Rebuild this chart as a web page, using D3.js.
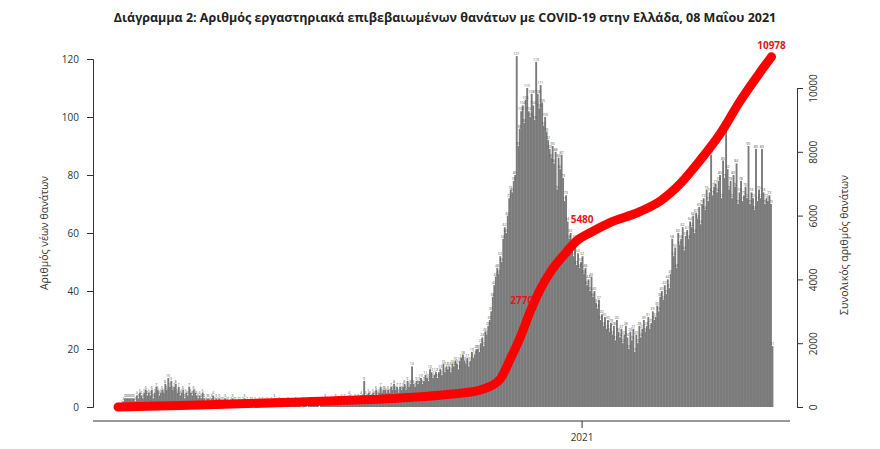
<!DOCTYPE html>
<html><head><meta charset="utf-8">
<script src="https://cdn.jsdelivr.net/npm/d3@7"></script>
<style>body{margin:0;background:#fff}text{font-family:"Open Sans",sans-serif}</style>
</head><body>
<script>
// daily new deaths, starting 26 Feb 2020
var startDay = "2020-02-26";
var dailyDeaths = [
  0,0,1,2,3,3,3,3,3,3, 3,2,4,3,5,4,3,5,6,4, 5,4,6,3,5,7,6,4,5,6, 5,8,6,10,7,9,6,7,8,5,
  7,4,5,6,3,5,4,7,5,4, 6,5,4,3,4,3,5,3,2,3, 3,2,3,4,2,3,2,3,2,2, 2,3,2,2,1,2,3,2,2,1,
  2,2,1,2,3,1,2,1,2,2, 1,2,1,1,2,1,2,1,1,2, 1,1,2,1,3,1,1,2,1,1, 1,0,1,2,1,1,0,1,2,1,
  1,1,0,2,1,1,0,1,1,2, 1,1,2,1,0,2,1,1,3,1, 2,1,1,2,1,3,2,1,2,3, 2,3,2,1,4,3,2,2,3,2,
  3,2,4,3,9,4,3,5,4,3, 5,4,6,4,5,7,5,6,6,5, 6,5,7,6,8,6,7,5,7,6, 7,8,6,9,7,8,14,8,7,9,
  8,9,10,8,9,11,10,9,13,12, 10,11,12,10,12,13,11,15,12,14, 13,14,12,15,14,16,15,13,16,17,
  18,16,15,17,14,16,19,17,18,20, 20,19,22,24,21,26,25,28,30,33, 38,42,45,48,46,52,50,58,62,60,
  66,72,75,74,78,80,121,90,96,102, 104,98,106,110,102,100,108,104,99,119,
  108,103,111,105,97,100,95,92,89,86, 90,84,88,75,86,82,87,79,71,73,
  64,58,60,55,52,58,49,53,48,50, 52,46,48,42,44,40,45,38,40,36, 34,37,30,32,28,31,27,30,26,29,
  25,28,23,30,26,24,27,22,25,28, 24,20,26,23,27,19,25,22,28,24, 27,30,26,28,31,27,29,33,30,31,
  35,33,38,40,37,42,39,44,41,46, 58,52,55,48,60,56,58,62,54,59, 61,58,64,62,66,60,67,65,69,63,
  70,72,68,75,71,74,87,73,76,77, 74,78,80,72,85,79,96,82,75,78, 72,80,76,84,70,74,78,71,73,76,
  72,90,70,74,72,68,89,71,75,72, 89,74,70,72,71,73,70,21
];
// cumulative total deaths
var cumDates = ["2020-02-26","2020-04-21","2020-06-27","2020-09-02","2020-10-05","2020-10-25","2020-11-01",
  "2020-11-08","2020-11-14","2020-11-21","2020-11-28","2020-12-04","2020-12-11","2020-12-21","2020-12-29",
  "2021-01-07","2021-01-20","2021-02-09","2021-02-23","2021-03-08","2021-03-21","2021-04-04","2021-04-17",
  "2021-04-30","2021-05-08"];
var cumDeaths = [0,60,160,280,400,530,650,900,1470,2190,3030,3650,4220,4810,5220,5470,5780,6125,6470,7000,7720,8590,9590,10470,10978];
var callouts = [["2020-12-01","2770"],["2021-01-09","5480"],["2021-05-08","10978"]];
var leftTicks = [0,20,40,60,80,100,120];
var rightTicks = [0,2000,4000,6000,8000,10000];

var W = 880, H = 449;
var parse = d3.timeParse("%Y-%m-%d");
var t0 = parse(startDay);
var days = dailyDeaths.map((v, i) => ({date: d3.timeDay.offset(t0, i), v: v}));

var svg = d3.select("body").append("svg").attr("width", W).attr("height", H);

var x = d3.scaleTime().domain([t0, d3.timeDay.offset(t0, dailyDeaths.length)]).range([118, 773]);
var y = d3.scaleLinear().domain([0, 120]).range([407, 59]);
var y2 = d3.scaleLinear().domain([0, 10000]).range([407, 88]);
var bw = x(d3.timeDay.offset(t0, 1)) - x(t0);

svg.append("text").attr("x", 445).attr("y", 22).attr("text-anchor", "middle")
  .attr("font-size", 12.5).attr("font-weight", "bold").attr("fill", "#222")
  .text("Διάγραμμα 2: Αριθμός εργαστηριακά επιβεβαιωμένων θανάτων με COVID-19 στην Ελλάδα, 08 Μαΐου 2021");

svg.append("g").selectAll("rect").data(days).enter().append("rect")
  .attr("x", d => x(d.date)).attr("width", bw + 0.4)
  .attr("y", d => y(d.v)).attr("height", d => 407 - y(d.v))
  .attr("fill", "#7b7b7b");

svg.append("g").selectAll("text").data(days.filter(d => d.v > 0)).enter().append("text")
  .attr("x", d => x(d.date) + bw / 2).attr("y", d => y(d.v) - 1)
  .attr("text-anchor", "middle").attr("font-size", 3.5).attr("fill", "#555")
  .text(d => d.v);

var cum = cumDates.map((d, i) => ({date: parse(d), v: cumDeaths[i]}));
svg.append("path").datum(cum)
  .attr("d", d3.line().x(d => x(d.date)).y(d => y2(d.v)).curve(d3.curveMonotoneX))
  .attr("fill", "none").attr("stroke", "#ff0000").attr("stroke-width", 9)
  .attr("stroke-linecap", "round");

var cumAt = d => d3.scaleTime().domain(cum.map(c => c.date)).range(cum.map(c => c.v))(d);
callouts.forEach(c => {
  var dt = parse(c[0]);
  svg.append("text").attr("x", x(dt) - (c[1] == "2770" ? 2 : 0)).attr("y", y2(cumAt(dt)) - (c[1] == "2770" ? -4 : 8))
    .attr("text-anchor", c[1] == "10978" ? "middle" : "end")
    .attr("font-size", 10).attr("font-weight", "bold").attr("fill", "#e8141b").text(c[1]);
});

// axes
var la = svg.append("g").attr("transform", "translate(93,0)")
  .call(d3.axisLeft(y).tickValues(leftTicks).tickSize(6).tickPadding(8));
la.selectAll("text").attr("font-size", 10).attr("fill", "#333");
var ra = svg.append("g").attr("transform", "translate(797,0)")
  .call(d3.axisRight(y2).tickValues(rightTicks).tickFormat(d3.format("d")).tickSize(6));
ra.selectAll("text").attr("font-size", 10).attr("fill", "#333")
  .attr("x", 0).attr("y", 0).attr("dy", 0).attr("text-anchor", "middle")
  .attr("transform", "translate(20,0) rotate(-90)");
var ba = svg.append("g").attr("transform", "translate(0,421)")
  .call(d3.axisBottom(x).tickValues([parse("2021-01-01")]).tickFormat(d3.timeFormat("%Y")).tickSize(7).tickPadding(6));
ba.select(".domain").attr("d", "M93,0H790");
ba.selectAll("text").attr("font-size", 10).attr("fill", "#333");
svg.selectAll(".domain, .tick line").attr("stroke", "#333");

svg.append("text").attr("transform", "translate(48,233) rotate(-90)").attr("text-anchor", "middle")
  .attr("font-size", 10.5).attr("fill", "#333").text("Αριθμός νέων θανάτων");
svg.append("text").attr("transform", "translate(848,245) rotate(-90)").attr("text-anchor", "middle")
  .attr("font-size", 10.5).attr("fill", "#333").text("Συνολικός αριθμός θανάτων");
</script>
</body></html>
